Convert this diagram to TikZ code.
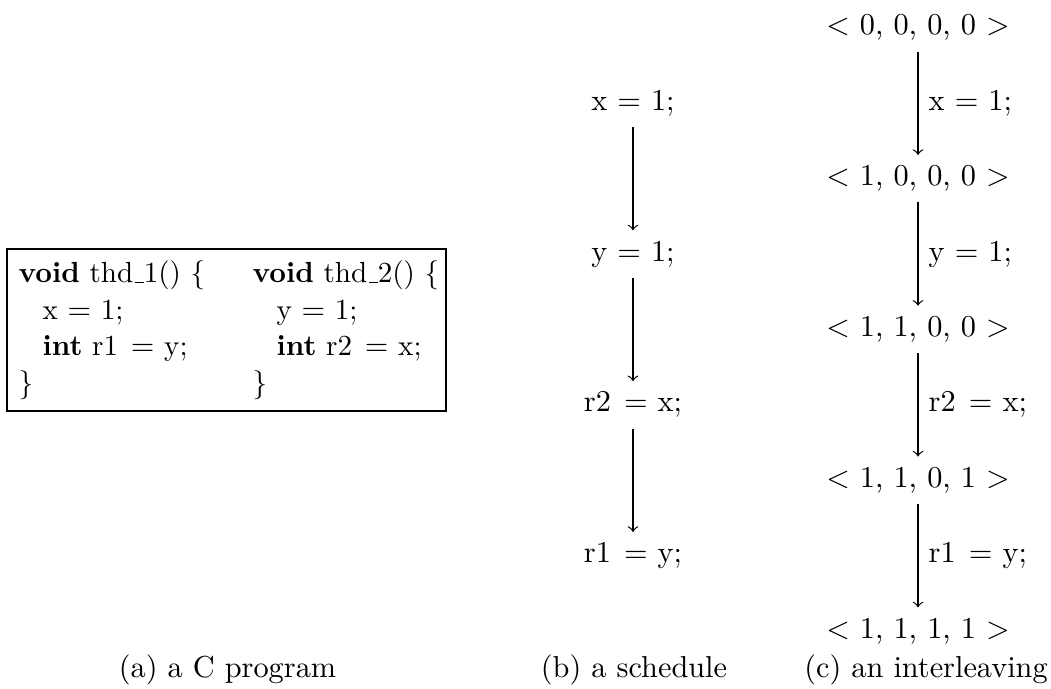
\documentclass[tikz,border=0pt]{standalone}
\newcommand\myus{\leavevmode\kern.06em\vbox{\hrule width.3em}}
\newcommand\fnhead[1]{\textbf{void} thd\myus#1() \{}
\begin{document}
\begin{tikzpicture}[x=0.33pt,y=-0.33pt,
  codeline/.style={anchor=base west, inner sep=0pt, font=\fontsize{9.6}{11.5}\selectfont},
  stmt/.style={anchor=base},
  state/.style={anchor=base},
  flow/.style={->},
  lbl/.style={midway, right},
  captext/.style={anchor=base},
  progbox/.style={draw, line width=0.8pt, minimum width=144.9pt, minimum height=53.5pt, inner sep=0pt}]
\useasboundingbox (0,0) rectangle (1051,689);
% (a) program
\node[progbox] (prog) at (226.5,330) {};
\node[codeline] (a1) at (18,283) {\fnhead{1}};
\node[codeline] (a2) at (42,319.5) {x $=$ 1;};
\node[codeline] (a3) at (42,356) {\textbf{int} r1\kern1pt\ $=$ y;};
\node[codeline] (a4) at (18,392.5) {\}};
\node[codeline] (a5) at (252,283) {\fnhead{2}};
\node[codeline] (a6) at (276,319.5) {y $=$ 1;};
\node[codeline] (a7) at (276,356) {\textbf{int} r2\kern1pt\ $=$ x;};
\node[codeline] (a8) at (252,392.5) {\}};
% (b) schedule
\node[stmt] (b1) at (633,110.4) {x $=$ 1;};
\node[stmt] (b2) at (633,261.2) {y $=$ 1;};
\node[stmt] (b3) at (633,412) {r2\kern1pt\ $=$ x;};
\node[stmt] (b4) at (633,562.8) {r1\kern1pt\ $=$ y;};
\draw[flow] (b1) -- (b2);
\draw[flow] (b2) -- (b3);
\draw[flow] (b3) -- (b4);
% (c) interleaving
\node[state] (c0) at (918,35) {$<$ 0, 0, 0, 0 $>$};
\node[state] (c1) at (918,185.8) {$<$ 1, 0, 0, 0 $>$};
\node[state] (c2) at (918,336.6) {$<$ 1, 1, 0, 0 $>$};
\node[state] (c3) at (918,487.4) {$<$ 1, 1, 0, 1 $>$};
\node[state] (c4) at (918,638.2) {$<$ 1, 1, 1, 1 $>$};
\draw[flow] (c0) -- node[lbl] {x $=$ 1;} (c1);
\draw[flow] (c1) -- node[lbl] {y $=$ 1;} (c2);
\draw[flow] (c2) -- node[lbl] {r2\kern1pt\ $=$ x;} (c3);
\draw[flow] (c3) -- node[lbl] {r1\kern1pt\ $=$ y;} (c4);
% captions
\node[captext] (ca) at (227.5,678) {(a) a C program};
\node[captext] (cb) at (634,678) {(b) a schedule};
\node[captext] (cc) at (926,678) {(c) an interleaving};
\end{tikzpicture}
\end{document}
